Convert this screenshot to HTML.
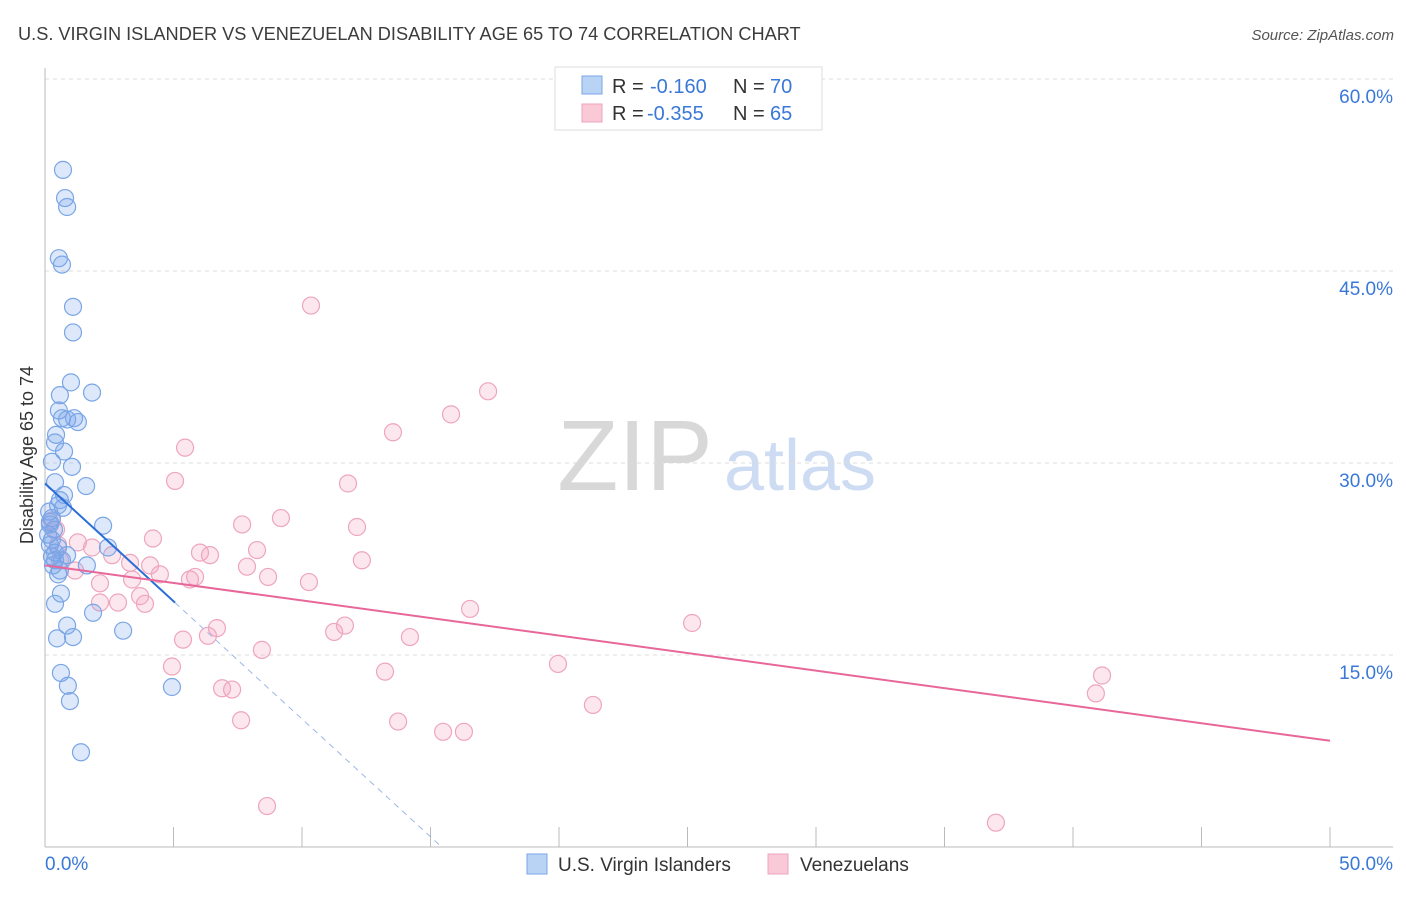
<!DOCTYPE html>
<html><head><meta charset="utf-8"><style>
body{margin:0;background:#fff;font-family:"Liberation Sans",sans-serif;}
svg text{font-family:"Liberation Sans",sans-serif;}
</style></head><body>
<svg id="chart" width="1406" height="892" xmlns="http://www.w3.org/2000/svg">
<text x="18" y="40" font-size="18.2" fill="#3c3c3c">U.S. VIRGIN ISLANDER VS VENEZUELAN DISABILITY AGE 65 TO 74 CORRELATION CHART</text>
<text x="1394" y="40" font-size="15" fill="#555" font-style="italic" text-anchor="end">Source: ZipAtlas.com</text>
<text x="635" y="490" font-size="100" fill="#d8d8d8" font-family="Liberation Serif" text-anchor="middle">ZIP</text>
<text x="800" y="490" font-size="72" fill="#cddcf2" text-anchor="middle">atlas</text>
<text transform="translate(33,455) rotate(-90)" font-size="18" fill="#333" text-anchor="middle">Disability Age 65 to 74</text>
<g id="grid"></g><g id="marks"></g>
<g>
<rect x="555" y="67" width="267" height="63" fill="#fff" stroke="#ddd"/>
<rect x="582" y="76" width="20" height="18" fill="#b9d3f5" stroke="#7aa6e6"/>
<rect x="582" y="104" width="20" height="18" fill="#f9c9d8" stroke="#eea5bd"/>
<text x="612" y="93" font-size="20" fill="#333">R =</text>
<text x="650" y="93" font-size="20" fill="#3a78d8">-0.160</text>
<text x="733" y="93" font-size="20" fill="#333">N =</text>
<text x="770" y="93" font-size="20" fill="#3a78d8">70</text>
<text x="612" y="120" font-size="20" fill="#333">R =</text>
<text x="647" y="120" font-size="20" fill="#3a78d8">-0.355</text>
<text x="733" y="120" font-size="20" fill="#333">N =</text>
<text x="770" y="120" font-size="20" fill="#3a78d8">65</text>
</g>
<g>
<rect x="527" y="854" width="20" height="20" fill="#b9d3f5" stroke="#7aa6e6"/>
<text x="558" y="871" font-size="19" fill="#333">U.S. Virgin Islanders</text>
<rect x="768" y="854" width="20" height="20" fill="#f9c9d8" stroke="#eea5bd"/>
<text x="800" y="871" font-size="19" fill="#333">Venezuelans</text>
</g>
</svg>
<script>
const blueX=[.70,.78,.86,.54,.66,1.09,1.09,1.01,1.83,.58,.54,.66,1.13,.86,1.28,.43,.39,.74,.27,1.05,1.60,.39,.74,.58,.51,.70,.16,.27,2.26,.19,.35,.12,.19,2.45,.39,.86,.27,.39,1.63,.58,.51,.62,.39,1.87,.86,3.04,1.09,.47,.62,.89,4.94,.97,1.40,.27,.51,.31,.66,.19];
const blueY=[52.9,50.7,50.0,46.0,45.5,42.2,40.2,36.3,35.5,35.3,34.1,33.5,33.5,33.4,33.2,32.2,31.6,30.9,30.1,29.7,28.2,28.5,27.5,27.1,26.7,26.5,26.2,25.7,25.1,25.4,24.8,24.4,23.6,23.4,23.0,22.8,22.7,22.4,22.0,21.6,21.3,19.8,19.0,18.3,17.3,16.9,16.4,16.3,13.6,12.6,12.5,11.4,7.4,24.0,23.4,22.0,22.4,25.2];
const pinkX=[10.35,17.24,15.80,13.54,5.45,5.06,11.79,9.18,7.67,12.14,4.20,.27,.43,.51,1.28,1.83,2.61,6.03,6.42,8.25,12.33,3.31,7.86,.58,1.17,4.09,4.47,5.84,5.64,8.68,10.27,2.14,3.39,3.70,2.84,3.89,16.54,25.18,6.69,11.67,11.25,14.20,5.37,6.34,8.44,4.94,19.96,13.23,41.13,40.89,6.89,7.28,21.32,7.63,13.74,15.49,16.30,8.64,37.00,2.14];
const pinkY=[42.3,35.6,33.8,32.4,31.2,28.6,28.4,25.7,25.2,25.0,24.1,25.5,24.8,23.6,23.8,23.4,22.8,23.0,22.8,23.2,22.4,22.2,21.9,22.4,21.6,22.0,21.3,21.1,20.9,21.1,20.7,20.6,20.9,19.6,19.1,19.0,18.6,17.5,17.1,17.3,16.8,16.4,16.2,16.5,15.4,14.1,14.3,13.7,13.4,12.0,12.4,12.3,11.1,9.9,9.8,9.0,9.0,3.2,1.9,19.1];
const blueTrend=[28.4,-1.84];
const pinkTrend=[22.0,-0.274];
const yTicks=[15,30,45,60];
const yTickLabels=["15.0%","30.0%","45.0%","60.0%"];
const xTicks=[0,5,10,15,20,25,30,35,40,45,50];
const NS="http://www.w3.org/2000/svg";
const X=v=>45+v*25.7, Y=v=>847-v*12.8;
function mk(p,t,a){const e=document.createElementNS(NS,t);for(const k in a)e.setAttribute(k,a[k]);p.appendChild(e);return e;}
const g=document.getElementById('grid'),m=document.getElementById('marks');
yTicks.forEach((t,i)=>{
 const l=mk(g,'line',{x1:45,x2:1393,y1:Y(t),y2:Y(t),stroke:'#ddd','stroke-dasharray':'4,4'});
 
 
 const tx=mk(g,'text',{x:1393,y:Y(t)+24,'font-size':19,fill:'#3a78d8','text-anchor':'end'});tx.textContent=yTickLabels[i];
 
 
});
const ax=mk(g,'line',{x1:45,x2:1393,y1:847,y2:847,stroke:'#bbb'});


const ay=mk(g,'line',{x1:45,x2:45,y1:68,y2:847,stroke:'#bbb'});


xTicks.forEach(t=>{const l=mk(g,'line',{x1:X(t),x2:X(t),y1:827,y2:847,stroke:'#bbb'});
 
 });
const x0=mk(g,'text',{x:45,y:870,'font-size':19,fill:'#3a78d8'});x0.textContent='0.0%';


const x1=mk(g,'text',{x:1393,y:870,'font-size':19,fill:'#3a78d8','text-anchor':'end'});x1.textContent='50.0%';


pinkX.forEach((v,i)=>{const c=mk(m,'circle',{cx:X(v),cy:Y(pinkY[i]),r:8.5,fill:'rgba(244,160,190,0.25)',stroke:'#eea5bd','stroke-width':1.2});
 
 });
blueX.forEach((v,i)=>{const c=mk(m,'circle',{cx:X(v),cy:Y(blueY[i]),r:8.5,fill:'rgba(120,165,235,0.25)',stroke:'#7aa6e6','stroke-width':1.2});
 
 });
const bx2=5.06, bx3=-blueTrend[0]/blueTrend[1];
const bt=mk(m,'line',{x1:X(0),y1:Y(blueTrend[0]),x2:X(bx2),y2:Y(blueTrend[0]+blueTrend[1]*bx2),stroke:'#2b6fd6','stroke-width':2});


const bd=mk(m,'line',{x1:X(bx2),y1:Y(blueTrend[0]+blueTrend[1]*bx2),x2:X(bx3),y2:Y(0),stroke:'#9bb8e6','stroke-width':1,'stroke-dasharray':'6,5'});


const pt=mk(m,'line',{x1:X(0),y1:Y(pinkTrend[0]),x2:X(50),y2:Y(pinkTrend[0]+pinkTrend[1]*50),stroke:'#e8679a','stroke-width':2});


</script>
</body></html>
